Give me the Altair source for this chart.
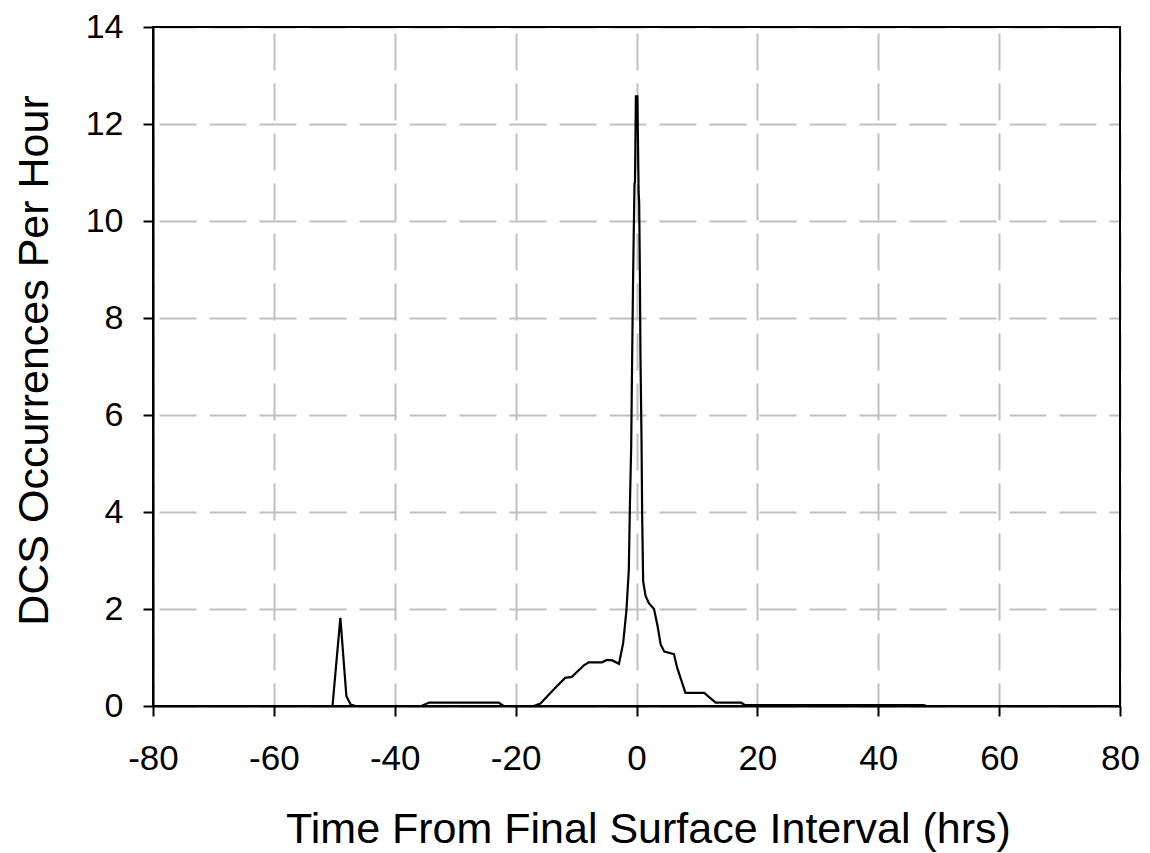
import altair as alt
import pandas as pd

# Time from final surface interval (hrs)
hours = [-80, -50.3, -49.0, -48.0, -47.3, -46.5, -35.6, -34.3, -22.8, -22.0,
         -17.0, -15.9, -13.7, -11.8, -10.7, -8.7, -7.9, -5.7, -4.9, -4.0,
         -2.9, -2.2, -1.66, -1.27, -1.1, -0.88, -0.72, -0.55, -0.33, -0.25,
         -0.1, 0.15, 0.35, 0.44, 0.55, 0.66, 0.83, 0.94, 1.1, 1.5,
         2.05, 2.9, 3.5, 4.0, 4.6, 6.2, 6.7, 8.1, 11.2, 13.1,
         17.3, 17.9, 47.5, 48.0, 80]
# DCS occurrences per hour
rate = [0, 0, 1.82, 0.2, 0.03, 0, 0, 0.07, 0.07, 0,
        0, 0.05, 0.34, 0.58, 0.6, 0.84, 0.9, 0.9, 0.95, 0.94,
        0.87, 1.3, 1.98, 2.82, 4.08, 5.34, 7.19, 8.96, 10.77, 10.8,
        12.57, 12.57, 10.6, 10.39, 9.04, 7.19, 5.51, 3.91, 2.57, 2.27,
        2.12, 2.0, 1.64, 1.27, 1.12, 1.07, 0.8, 0.27, 0.27, 0.07,
        0.07, 0.02, 0.02, 0, 0]

x_ticks = [-80, -60, -40, -20, 0, 20, 40, 60, 80]
y_ticks = [0, 2, 4, 6, 8, 10, 12, 14]

df = pd.DataFrame({"t": hours, "r": rate})

FONT = "Liberation Sans"
W, H = 967, 679

line = alt.Chart(df).mark_line(color="black", strokeWidth=2.2).encode(
    x=alt.X("t:Q",
            scale=alt.Scale(domain=[-80, 80], nice=False, zero=False),
            axis=alt.Axis(values=x_ticks, title="Time From Final Surface Interval (hrs)",
                          labelExpr="'' + datum.value",
                          labelFontSize=35, labelPadding=25,
                          titleFontSize=43, titleX=495, titleY=136,
                          titleBaseline="alphabetic", titleAlign="center")),
    y=alt.Y("r:Q",
            scale=alt.Scale(domain=[0, 14], nice=False),
            axis=alt.Axis(values=y_ticks, title="DCS Occurrences Per Hour",
                          labelExpr="'' + datum.value",
                          labelFontSize=34, labelPadding=20,
                          titleFontSize=43, titleX=-106, titleY=333, titleAngle=270,
                          titleBaseline="alphabetic", titleAlign="center")),
)

frame = alt.Chart(pd.DataFrame({"k": [0]})).mark_rect(
    fill=None, stroke="black", strokeWidth=2
).encode(
    x=alt.value(0), x2=alt.value(W), y=alt.value(0), y2=alt.value(H)
)

chart = alt.layer(line, frame).properties(
    width=W, height=H,
    background="white",
    autosize=alt.AutoSizeParams(type="none"),
    padding={"left": 153, "top": 27, "right": 30, "bottom": 147},
).configure_view(
    stroke="black", strokeWidth=2
).configure_axis(
    labelFont=FONT, titleFont=FONT, labelColor="black", titleColor="black",
    titleFontWeight="normal",
    tickSize=10, tickWidth=2, tickColor="black",
    domainColor="black", domainWidth=2,
    grid=True, gridColor="#c0c0c0", gridWidth=2, gridDash=[37, 13],
    gridDashOffset=-6, gridOpacity=1,
    labelFlush=False, labelOverlap=False,
)

chart.save("out.html", embed_options={"renderer": "svg", "actions": False})
